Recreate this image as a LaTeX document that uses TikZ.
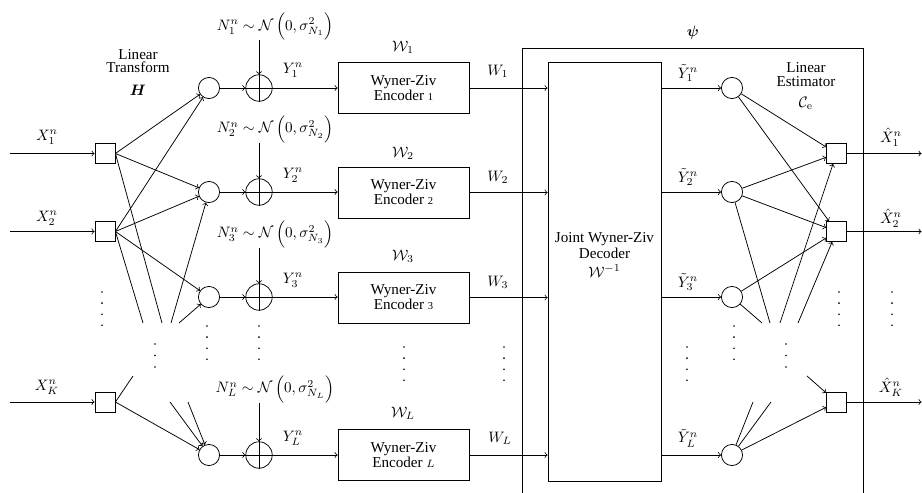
\documentclass[tikz,border=0pt]{standalone}
\usepackage{amsmath}
\usepackage[no-math]{fontspec}
\setmainfont{Liberation Serif}
\usetikzlibrary{calc}
\begin{document}
\begin{tikzpicture}[x=0.662pt,y=-0.662pt,line width=0.5pt,>=to,
  sq/.style={draw, minimum size=13.3pt, inner sep=0pt},
  lc/.style={draw, circle, minimum size=14pt, inner sep=0pt},
  adder/.style={draw, circle, minimum size=17.5pt, inner sep=0pt},
  enc/.style={draw, minimum width=86.7pt, minimum height=33.8pt, inner sep=0pt, align=center, font=\fontsize{10pt}{10pt}\selectfont},
  dec/.style={draw, minimum width=74.8pt, minimum height=277.4pt, inner sep=0pt},
  lbl/.style={inner sep=1pt},
  nlbl/.style={inner sep=0pt},
  ttl/.style={align=center, inner sep=0pt},
  dotf/.style={fill=black},
]
\useasboundingbox (0,0) rectangle (922,493);

% ---- input squares and lines
\node[sq] (x1) at (105,153.5) {};
\node[sq] (x2) at (105,231.5) {};
\node[sq] (xK) at (105,402) {};
\coordinate (i1) at (10,153.5);
\coordinate (i2) at (10,231.5);
\coordinate (iK) at (10,402);
\draw[->] (i1) -- (x1);
\draw[->] (i2) -- (x2);
\draw[->] (iK) -- (xK);
\node[lbl] (lx1) at (47,137) {$X_1^n$};
\node[lbl] (lx2) at (47,218) {$X_2^n$};
\node[lbl] (lxK) at (47,387) {$X_K^n$};

% ---- linear-combination circles, adders, encoders
\node[lc] (c1) at (209,88) {};
\node[lc] (c2) at (209,192) {};
\node[lc] (c3) at (209,297) {};
\node[lc] (cL) at (209,455) {};
\node[adder] (o1) at (259,88) {};
\node[adder] (o2) at (259,192) {};
\node[adder] (o3) at (259,297) {};
\node[adder] (oL) at (259,455) {};
\foreach \n in {1,2,3,L}{
  \draw (o\n.north) -- (o\n.south) (o\n.west) -- (o\n.east);
}
\node[enc] (e1) at (403.5,88) {Wyner-Ziv\\Encoder {\scriptsize 1}};
\node[enc] (e2) at (403.5,192.5) {Wyner-Ziv\\Encoder {\scriptsize 2}};
\node[enc] (e3) at (403.5,297.5) {Wyner-Ziv\\Encoder {\scriptsize 3}};
\node[enc] (eL) at (403.5,455) {Wyner-Ziv\\Encoder $\scriptstyle L$};

% ---- titles
\node[ttl, font=\fontsize{10pt}{8.7pt}\selectfont] (tH) at (138,61) {Linear\\Transform};
\node[lbl] (H) at (138,90) {$\boldsymbol{H}$};

% ---- noise labels
\node[nlbl] (n1) at (275,26.5) {$N_1^n\sim\mathcal{N}\,\Bigl(0,\sigma^2_{N_1}\Bigr)$};
\node[nlbl] (n2) at (275,129) {$N_2^n\sim\mathcal{N}\,\Bigl(0,\sigma^2_{N_2}\Bigr)$};
\node[nlbl] (n3) at (275,234) {$N_3^n\sim\mathcal{N}\,\Bigl(0,\sigma^2_{N_3}\Bigr)$};
\node[nlbl] (nL) at (275,389) {$N_L^n\sim\mathcal{N}\,\Bigl(0,\sigma^2_{N_L}\Bigr)$};
\draw[->] (n1.south -| o1) -- (o1);
\draw[->] (n2.south -| o2) -- (o2);
\draw[->] (n3.south -| o3) -- (o3);
\draw[->] (nL.south -| oL) -- (oL);

% ---- circle -> adder -> encoder
\foreach \n in {1,2,3,L}{
  \draw[->] (c\n) -- (o\n);
  \draw[->] (o\n) -- (o\n -| e\n.west);
}
\node[lbl] (ly1) at (293,70) {$Y_1^n$};
\node[lbl] (ly2) at (293,175) {$Y_2^n$};
\node[lbl] (ly3) at (293,280) {$Y_3^n$};
\node[lbl] (lyL) at (293,438) {$Y_L^n$};
\node[lbl] (lw1) at (403,47) {$\mathcal{W}_1$};
\node[lbl] (lw2) at (403,153) {$\mathcal{W}_2$};
\node[lbl] (lw3) at (403,256) {$\mathcal{W}_3$};
\node[lbl] (lwL) at (403,413) {$\mathcal{W}_L$};

% ---- left fan
\coordinate (la) at (143,323);
\coordinate (lb) at (162,323);
\coordinate (lc3) at (171,323);
\coordinate (ld) at (179,323);
\coordinate (lk) at (133,376);
\coordinate (le) at (170,402);
\coordinate (lf) at (188,402);
\draw[->] (x1.east) -- (c1);
\draw[->] (x1.east) -- (c2);
\draw (x1.east) -- (lb);
\draw[->] (x2.east) -- (c1);
\draw[->] (x2.east) -- (c2);
\draw[->] (x2.east) -- (c3);
\draw (x2.east) -- (la);
\draw[->] (lc3) -- (c2);
\draw[->] (ld) -- (c3);
\draw (xK.east) -- (lk);
\draw[->] (xK.east) -- (cL);
\draw[->] (le) -- (cL);
\draw[->] (lf) -- (cL);

% ---- outer psi box and decoder
\draw (522,493) -- (522,48) -- (863,48) -- (863,493);
\node[lbl] (psi) at (693,33) {$\boldsymbol{\psi}$};
\node[dec] (dec) at (604.5,271.5) {};
\node[ttl, font=\fontsize{10pt}{10.6pt}\selectfont] (dect) at (604.5,255) {Joint Wyner-Ziv\\Decoder\\[1.5pt]$\mathcal{W}^{-1}$};

\foreach \n in {1,2,3,L}{
  \draw[->] (e\n) -- (e\n -| dec.west);
}
\node[lbl] (lW1) at (498,71) {$W_1$};
\node[lbl] (lW2) at (498,177) {$W_2$};
\node[lbl] (lW3) at (498,282) {$W_3$};
\node[lbl] (lWL) at (500,438) {$W_L$};

% ---- right circles and squares
\node[lc] (r1) at (732,88) {};
\node[lc] (r2) at (732,192) {};
\node[lc] (r3) at (732,297) {};
\node[lc] (rL) at (732,455) {};
\foreach \n in {1,2,3,L}{
  \draw[->] (dec.east |- r\n) -- (r\n);
}
\node[lbl] (lt1) at (688,73) {$\tilde{Y}_1^n$};
\node[lbl] (lt2) at (688,177) {$\tilde{Y}_2^n$};
\node[lbl] (lt3) at (688,282) {$\tilde{Y}_3^n$};
\node[lbl] (ltL) at (688,438) {$\tilde{Y}_L^n$};

\node[sq] (s1) at (836.5,153.5) {};
\node[sq] (s2) at (836.5,231.5) {};
\node[sq] (sK) at (836.5,402) {};
\coordinate (o1e) at (921.5,153.5);
\coordinate (o2e) at (921.5,231.5);
\coordinate (oKe) at (921.5,402);
\draw[->] (s1) -- (o1e);
\draw[->] (s2) -- (o2e);
\draw[->] (sK) -- (oKe);
\node[lbl] (lh1) at (891,137) {$\hat{X}_1^n$};
\node[lbl] (lh2) at (891,218) {$\hat{X}_2^n$};
\node[lbl] (lhK) at (891,387) {$\hat{X}_K^n$};

\node[ttl, font=\fontsize{10pt}{9.3pt}\selectfont] (tE) at (806,75) {Linear\\Estimator};
\node[lbl] (Ce) at (806,103) {$\mathcal{C}_{\mathrm{e}}$};

% ---- right fan
\coordinate (ra) at (762,323);
\coordinate (rb) at (770,323);
\coordinate (rc) at (780,323);
\coordinate (rd) at (798,323);
\coordinate (re) at (753,402);
\coordinate (rf) at (771,402);
\coordinate (rg) at (807,376);
\draw[->] (r1) -- (s1);
\draw[->] (r1) -- (s2);
\draw[->] (r2) -- (s1);
\draw[->] (r2) -- (s2);
\draw (r2) -- (rb);
\draw[->] (r3) -- (s2);
\draw (r3) -- (ra);
\draw[->] (rc) -- (s1);
\draw[->] (rd) -- (s2);
\draw (rL) -- (re);
\draw (rL) -- (rf);
\draw[->] (rL) -- (sK);
\draw[->] (rg) -- (sK);

% ---- continuation dots
\foreach \x/\y/\m in {102/292/3, 207/326/3, 259/326/3, 404/347/3, 504/347/3,
                      839/292/3, 892/292/3, 734/326/3, 687/347/3}{
  \foreach \k in {0,...,\m}{
    \fill[dotf] (\x,{\y+11.1*\k}) circle[radius=0.6pt];
  }
}
\foreach \x/\y in {155/344, 786/344}{
  \foreach \k in {0,1,2}{
    \fill[dotf] (\x,{\y+11.5*\k}) circle[radius=0.6pt];
  }
}
\end{tikzpicture}
\end{document}
